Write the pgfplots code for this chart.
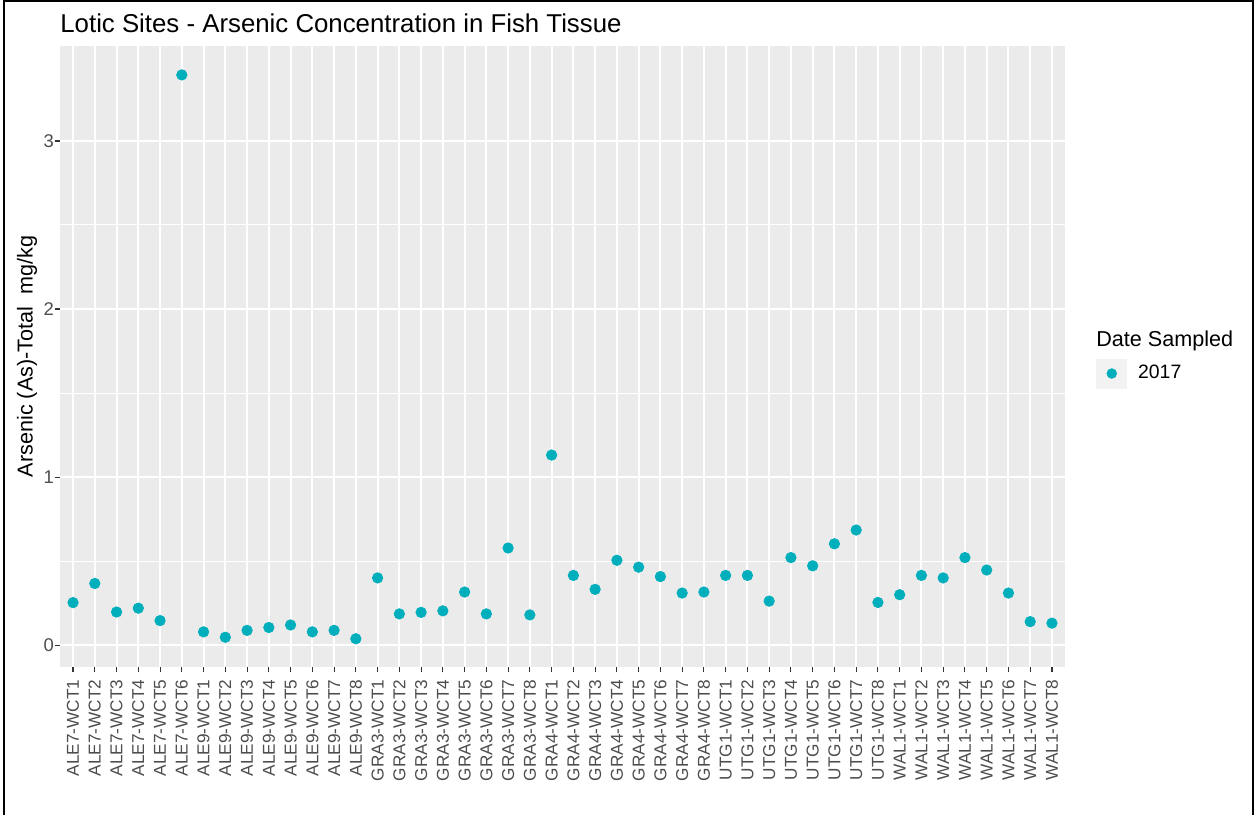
\documentclass[border=0pt]{standalone}
\usepackage{fontspec}
\setmainfont{Liberation Sans}
\usepackage{pgfplots}
\pgfplotsset{compat=1.18}
\usepackage{pgfplotstable}
\definecolor{panel}{HTML}{EBEBEB}
\definecolor{keybg}{HTML}{F2F2F2}
\definecolor{ptc}{HTML}{00AFBB}
\definecolor{ticklab}{HTML}{4D4D4D}
\definecolor{tickc}{HTML}{333333}

\pgfplotstableread{
idx val
0 0.253
1 0.367
2 0.197
3 0.220
4 0.146
5 3.393
6 0.079
7 0.047
8 0.088
9 0.105
10 0.120
11 0.079
12 0.088
13 0.038
14 0.400
15 0.186
16 0.195
17 0.204
18 0.316
19 0.186
20 0.578
21 0.180
22 1.131
23 0.415
24 0.332
25 0.505
26 0.464
27 0.408
28 0.310
29 0.316
30 0.415
31 0.415
32 0.262
33 0.521
34 0.472
35 0.603
36 0.685
37 0.254
38 0.300
39 0.415
40 0.400
41 0.521
42 0.447
43 0.310
44 0.140
45 0.131
}\arsenic

\begin{document}
\begin{tikzpicture}
\useasboundingbox (-30pt,-74pt) rectangle (597pt,333.5pt);
\begin{axis}[
  at={(0,0)}, anchor=south west,
  width=502.5pt, height=310.5pt, scale only axis,
  xmin=-0.6, xmax=45.6, ymin=-0.13, ymax=3.565,
  axis background/.style={fill=panel},
  axis line style={draw=none},
  xtick={0,...,45},
  xticklabels={ALE7-WCT1,ALE7-WCT2,ALE7-WCT3,ALE7-WCT4,ALE7-WCT5,ALE7-WCT6,
    ALE9-WCT1,ALE9-WCT2,ALE9-WCT3,ALE9-WCT4,ALE9-WCT5,ALE9-WCT6,ALE9-WCT7,ALE9-WCT8,
    GRA3-WCT1,GRA3-WCT2,GRA3-WCT3,GRA3-WCT4,GRA3-WCT5,GRA3-WCT6,GRA3-WCT7,GRA3-WCT8,
    GRA4-WCT1,GRA4-WCT2,GRA4-WCT3,GRA4-WCT4,GRA4-WCT5,GRA4-WCT6,GRA4-WCT7,GRA4-WCT8,
    UTG1-WCT1,UTG1-WCT2,UTG1-WCT3,UTG1-WCT4,UTG1-WCT5,UTG1-WCT6,UTG1-WCT7,UTG1-WCT8,
    WAL1-WCT1,WAL1-WCT2,WAL1-WCT3,WAL1-WCT4,WAL1-WCT5,WAL1-WCT6,WAL1-WCT7,WAL1-WCT8},
  ytick={0,1,2,3}, yticklabels={0,1,2,3},
  minor ytick={0.5,1.5,2.5},
  xmajorgrids, ymajorgrids, yminorgrids,
  major grid style={white, line width=1pt},
  minor grid style={white, line width=0.5pt},
  tick pos=left, tick align=outside,
  major tick length=2.7pt, minor tick length=0pt,
  major tick style={tickc, line width=0.55pt},
  /pgf/number format/assume math mode=true,
  xticklabel style={rotate=90, anchor=east, font=\fontsize{8.6}{10}\selectfont, text=ticklab, inner sep=0pt},
  yticklabel style={anchor=east, font=\fontsize{9.2}{10}\selectfont, text=ticklab, inner sep=0pt},
  xticklabel shift=3.5pt, yticklabel shift=0.2pt,
  ylabel={Arsenic (As)-Total\ \ mg/kg},
  every axis y label/.style={at={(axis description cs:-0.0328,0.5)}, rotate=90, anchor=center, inner sep=0pt, font=\fontsize{10.8}{12}\selectfont},
  legend image code/.code={
    \fill[keybg] (0pt,-7.25pt) rectangle (15pt,7.25pt);
    \fill[ptc] (7.5pt,0pt) circle (2.4pt);
    \path (20.5pt,0pt);
  },
  legend style={at={(axis description cs:1.0308,0.4726)}, anchor=west, draw=none, fill=none, inner sep=0pt,
    nodes={inner sep=0pt, font=\fontsize{9.7}{11}\selectfont, text=black}},
  legend cell align=left,
  clip=false,
]
\addplot[only marks, mark=*, color=ptc, mark size=2.6pt] table[x=idx, y=val] {\arsenic};
\addlegendentry{2017}
\node[anchor=base west, inner sep=0pt, font=\fontsize{12.9}{15}\selectfont] at (axis description cs:0,1.0225) {Lotic Sites - Arsenic Concentration in Fish Tissue};
\node[anchor=base west, inner sep=0pt, font=\fontsize{10.8}{12}\selectfont] at (axis description cs:1.0308,0.5169) {Date Sampled};
\end{axis}
\draw[black, line width=1.15pt] (-28.1pt,-74pt) -- (-28.1pt,332.9pt) -- (596.4pt,332.9pt) -- (596.4pt,-74pt);
\end{tikzpicture}
\end{document}
